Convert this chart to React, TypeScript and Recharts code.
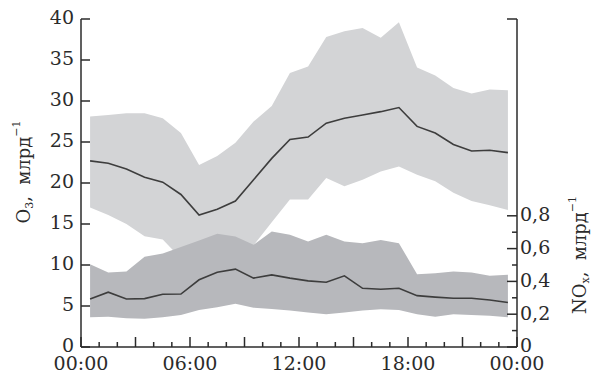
import React from "react";
import { Area, ComposedChart, Line, XAxis, YAxis } from "recharts";

// hour of day (mid-hour points)
const hours = [0.5, 1.5, 2.5, 3.5, 4.5, 5.5, 6.5, 7.5, 8.5, 9.5, 10.5, 11.5, 12.5, 13.5, 14.5, 15.5, 16.5, 17.5, 18.5, 19.5, 20.5, 21.5, 22.5, 23.5];

// O3, ppb
const o3Mean = [22.7, 22.4, 21.7, 20.7, 20.1, 18.6, 16.1, 16.8, 17.8, 20.4, 23.0, 25.3, 25.6, 27.3, 27.9, 28.3, 28.7, 29.2, 26.9, 26.1, 24.7, 23.9, 24.0, 23.7];
const o3High = [28.1, 28.3, 28.5, 28.5, 27.9, 26.1, 22.2, 23.3, 24.9, 27.5, 29.4, 33.4, 34.2, 37.8, 38.5, 38.9, 37.7, 39.6, 34.1, 33.1, 31.6, 30.9, 31.4, 31.3];
const o3Low = [17.0, 16.1, 15.0, 13.5, 13.1, 10.8, 10.5, 10.8, 11.5, 12.4, 15.2, 18.0, 18.0, 20.6, 19.6, 20.4, 21.4, 22.0, 21.0, 20.2, 18.8, 17.8, 17.3, 16.7];

// NOx, ppb
const noxMean = [0.293, 0.334, 0.293, 0.295, 0.322, 0.323, 0.41, 0.456, 0.475, 0.42, 0.44, 0.42, 0.403, 0.395, 0.434, 0.358, 0.352, 0.358, 0.313, 0.304, 0.297, 0.297, 0.287, 0.271];
const noxHigh = [0.505, 0.454, 0.46, 0.55, 0.57, 0.61, 0.65, 0.69, 0.674, 0.623, 0.704, 0.684, 0.643, 0.684, 0.643, 0.633, 0.653, 0.633, 0.444, 0.45, 0.46, 0.455, 0.435, 0.44];
const noxLow = [0.181, 0.184, 0.175, 0.172, 0.181, 0.195, 0.226, 0.243, 0.263, 0.24, 0.232, 0.222, 0.21, 0.2, 0.21, 0.222, 0.23, 0.226, 0.2, 0.185, 0.2, 0.195, 0.19, 0.181];

const xTicks = [0, 1, 2, 3, 4, 5, 6, 7, 8, 9, 10, 11, 12, 13, 14, 15, 16, 17, 18, 19, 20, 21, 22, 23, 24];
const xLabels = ["00:00", "06:00", "12:00", "18:00", "00:00"];
const o3Ticks = [0, 5, 10, 15, 20, 25, 30, 35, 40];
const noxTicks = [0, 0.1, 0.2, 0.3, 0.4, 0.5, 0.6, 0.7, 0.8, 2];
const noxLabels = ["0", "0,2", "0,4", "0,6", "0,8"];

const data = hours.map((h, i) => ({
  hour: h,
  o3: o3Mean[i],
  o3Range: [o3Low[i], o3High[i]],
  nox: noxMean[i],
  noxRange: [noxLow[i], noxHigh[i]],
}));

const FONT = "'DejaVu Serif', serif";
const INK = "#2b2b2b";

function XTick({ x, y, payload }: any) {
  const v = payload.value;
  const major = v % 3 === 0;
  const label = v % 6 === 0 ? xLabels[v / 6] : null;
  return (
    <g>
      <line x1={x} x2={x} y1={y} y2={y - (major ? 10 : 5)} stroke={INK} strokeWidth={1.5} />
      {label && (
        <text x={x} y={y + 23} textAnchor="middle" fontFamily={FONT} fontSize={19} fill={INK}>
          {label}
        </text>
      )}
    </g>
  );
}

function LeftTick({ x, y, payload }: any) {
  return (
    <g>
      <line x1={x} x2={x + 9} y1={y} y2={y} stroke={INK} strokeWidth={1.5} />
      <text x={x - 7} y={y} dy="0.28em" textAnchor="end" fontFamily={FONT} fontSize={19} fill={INK}>
        {payload.value}
      </text>
    </g>
  );
}

function RightTick({ x, y, payload }: any) {
  const v = Math.round(payload.value * 10);
  const major = v % 2 === 0;
  const label = v <= 8 && major ? noxLabels[v / 2] : null;
  return (
    <g>
      <line x1={x} x2={x - (major ? 10 : 5)} y1={y} y2={y} stroke={INK} strokeWidth={1.5} />
      {label && (
        <text x={x + 3} y={y} dy="0.28em" textAnchor="start" fontFamily={FONT} fontSize={19} fill={INK}>
          {label}
        </text>
      )}
    </g>
  );
}

const leftTitle = () => (
  <text
    x={23}
    y={172}
    transform="rotate(-90, 23, 172)"
    textAnchor="middle"
    dominantBaseline="central"
    fontFamily={FONT}
    fontSize={18}
    fill={INK}
    style={{ whiteSpace: "pre" }}
  >
    O<tspan baselineShift="sub" fontSize={11}>3</tspan>,  млрд<tspan baselineShift="super" fontSize={11}>−1</tspan>
  </text>
);

const rightTitle = () => (
  <text
    x={579}
    y={255}
    transform="rotate(-90, 579, 255)"
    textAnchor="middle"
    dominantBaseline="central"
    fontFamily={FONT}
    fontSize={18}
    fill={INK}
    style={{ whiteSpace: "pre" }}
  >
    NO<tspan baselineShift="sub" fontSize={11}>x</tspan>,  млрд<tspan baselineShift="super" fontSize={11}>−1</tspan>
  </text>
);

export default function App() {
  return (
    <div style={{ position: "absolute", left: 0, top: 0, background: "#fff" }}>
      <ComposedChart width={593} height={373} data={data} margin={{ top: 19, right: 0, bottom: 0, left: 0 }}>
        <XAxis
          dataKey="hour"
          type="number"
          domain={[0, 24]}
          ticks={xTicks}
          interval={0}
          height={26}
          tickSize={0}
          tickMargin={0}
          tickLine={false}
          tick={<XTick />}
          axisLine={{ stroke: INK, strokeWidth: 1.5 }}
        />
        <YAxis
          yAxisId="left"
          domain={[0, 40]}
          ticks={o3Ticks}
          interval={0}
          width={81}
          tickSize={0}
          tickMargin={0}
          tickLine={false}
          tick={<LeftTick />}
          axisLine={{ stroke: INK, strokeWidth: 1.5 }}
          label={leftTitle}
        />
        <YAxis
          yAxisId="right"
          orientation="right"
          domain={[0, 2]}
          ticks={noxTicks}
          interval={0}
          width={76}
          tickSize={0}
          tickMargin={0}
          tickLine={false}
          tick={<RightTick />}
          axisLine={{ stroke: INK, strokeWidth: 1.5 }}
          label={rightTitle}
        />
        <Area
          yAxisId="left"
          dataKey="o3Range"
          type="linear"
          stroke="none"
          fill="#d3d4d6"
          fillOpacity={1}
          isAnimationActive={false}
        />
        <Area
          yAxisId="right"
          dataKey="noxRange"
          type="linear"
          stroke="none"
          fill="#b7b8bc"
          fillOpacity={1}
          isAnimationActive={false}
        />
        <Line yAxisId="left" dataKey="o3" type="linear" stroke="#3d3d3d" strokeWidth={1.6} dot={false} isAnimationActive={false} />
        <Line yAxisId="right" dataKey="nox" type="linear" stroke="#3d3d3d" strokeWidth={1.6} dot={false} isAnimationActive={false} />
      </ComposedChart>
    </div>
  );
}
